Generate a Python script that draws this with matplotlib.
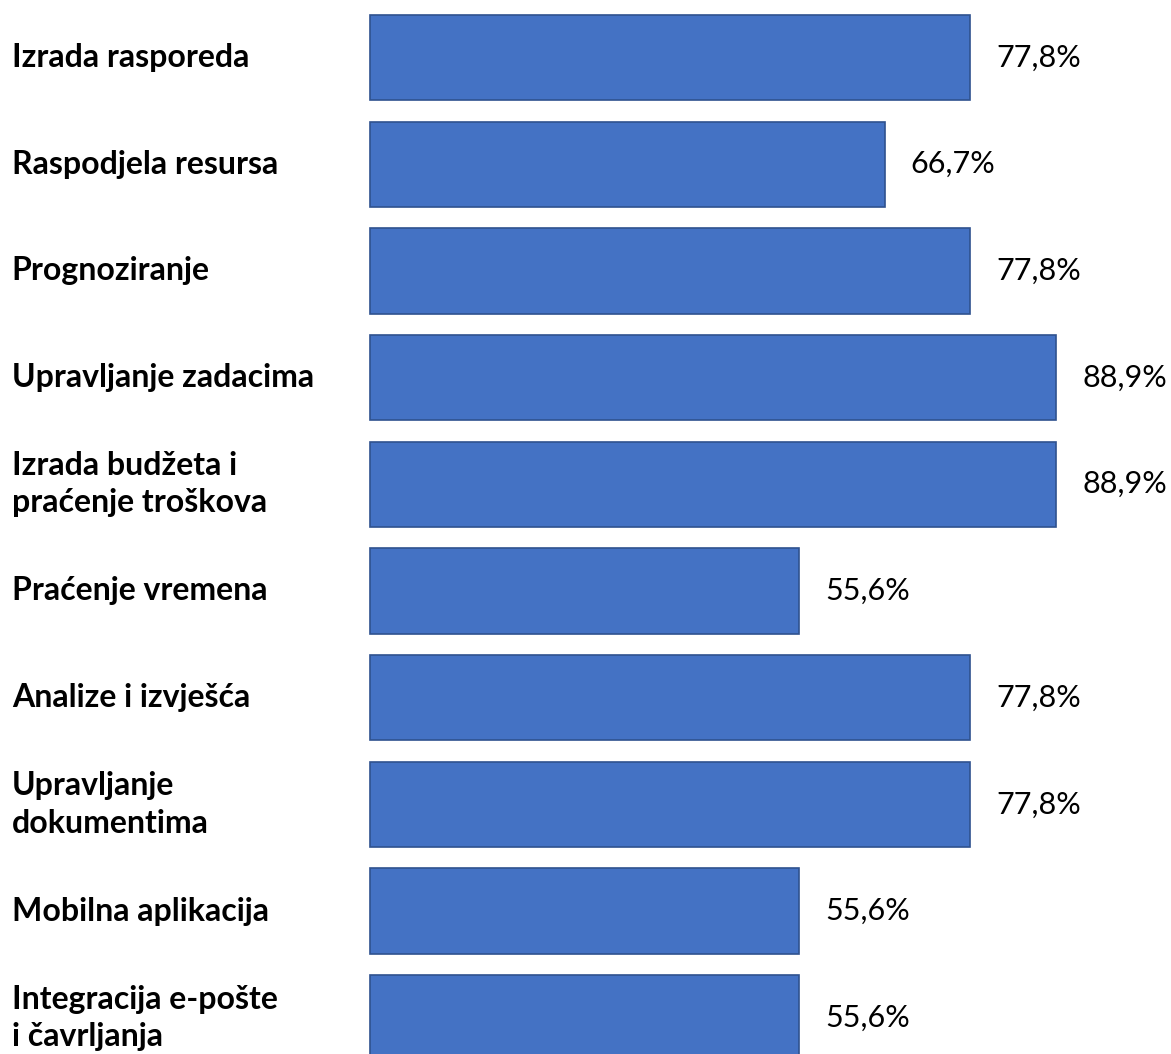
import matplotlib.pyplot as plt
import numpy as np

categories = ['Izrada rasporeda', 'Raspodjela resursa', 'Prognoziranje',
              'Upravljanje zadacima', 'Izrada budžeta i\npraćenje troškova',
              'Praćenje vremena', 'Analize i izvješća',
              'Upravljanje\ndokumentima', 'Mobilna aplikacija',
              'Integracija e-pošte\ni čavrljanja']
values = [77.8, 66.7, 77.8, 88.9, 88.9, 55.6, 77.8, 77.8, 55.6, 55.6]
value_labels = ['77,8%', '66,7%', '77,8%', '88,9%', '88,9%',
                '55,6%', '77,8%', '77,8%', '55,6%', '55,6%']

plt.rcParams['font.family'] = ['Lato', 'DejaVu Sans']

fig = plt.figure(figsize=(11.71, 10.54), dpi=100)
ax = fig.add_axes([0, 0, 1, 1])

y_pos = np.arange(len(categories))
ax.barh(y_pos, values, 0.8, color='#4472C4', edgecolor='#2F528F', linewidth=1.2)

ax.set_xlim(-47.9, 103.8)
ax.set_ylim(9.34, -0.539)
ax.axis('off')

# category labels on the left, value labels at bar ends
for i, c in enumerate(categories):
    ax.text(0.010, y_pos[i], c, transform=ax.get_yaxis_transform(),
            ha='left', va='center', fontsize=23, fontweight='bold',
            linespacing=1.35, color='black')
    ax.text(values[i] + 3.4, y_pos[i], value_labels[i], ha='left', va='center',
            fontsize=22, color='black')

plt.savefig('out.png', dpi=100)
